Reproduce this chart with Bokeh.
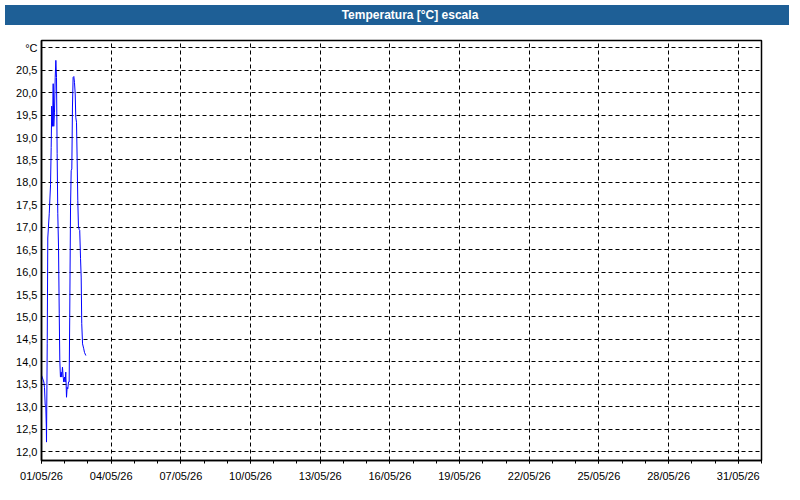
import pandas as pd
from bokeh.plotting import figure
from bokeh.models import FixedTicker, Range1d, Div, ColumnDataSource
from bokeh.layouts import column
from bokeh.embed import file_html
from bokeh.resources import INLINE

title_text = "Temperatura [°C] escala"

times = [
    "2026-05-01 00:00", "2026-05-01 01:00", "2026-05-01 02:25", "2026-05-01 03:05",
    "2026-05-01 03:50", "2026-05-01 04:25", "2026-05-01 05:00", "2026-05-01 05:10",
    "2026-05-01 05:55", "2026-05-01 06:30", "2026-05-01 07:10", "2026-05-01 08:00",
    "2026-05-01 09:20", "2026-05-01 10:00", "2026-05-01 10:35", "2026-05-01 11:25",
    "2026-05-01 12:05", "2026-05-01 12:40", "2026-05-01 13:25", "2026-05-01 14:10",
    "2026-05-01 14:50", "2026-05-01 15:30", "2026-05-01 16:10", "2026-05-01 16:50",
    "2026-05-01 17:35", "2026-05-01 18:20", "2026-05-01 18:55", "2026-05-01 19:35",
    "2026-05-01 20:20", "2026-05-01 21:00", "2026-05-01 21:40", "2026-05-01 22:25",
    "2026-05-01 23:00", "2026-05-01 23:50", "2026-05-02 00:25", "2026-05-02 01:05",
    "2026-05-02 01:50", "2026-05-02 02:30", "2026-05-02 03:10", "2026-05-02 03:55",
    "2026-05-02 04:35", "2026-05-02 05:10", "2026-05-02 06:00", "2026-05-02 06:40",
    "2026-05-02 07:20", "2026-05-02 08:00", "2026-05-02 08:40", "2026-05-02 09:25",
    "2026-05-02 10:05", "2026-05-02 10:50", "2026-05-02 11:25", "2026-05-02 12:10",
    "2026-05-02 12:55", "2026-05-02 13:30", "2026-05-02 14:10", "2026-05-02 14:55",
    "2026-05-02 15:30", "2026-05-02 16:20", "2026-05-02 17:00", "2026-05-02 17:35",
    "2026-05-02 18:25", "2026-05-02 19:40", "2026-05-02 20:25", "2026-05-02 21:50",
]
temps = [
    13.70, 13.64, 13.55, 13.43, 13.03, 13.03, 12.54, 12.21,
    14.40, 16.76, 17.00, 17.30, 17.95, 18.78, 19.70, 19.25,
    20.20, 19.25, 19.55, 20.34, 20.72, 20.34, 18.64, 17.30,
    16.56, 15.07, 14.03, 13.66, 13.77, 13.66, 13.88, 13.66,
    13.55, 13.66, 13.55, 13.77, 13.21, 13.43, 13.40, 13.55,
    13.55, 14.99, 17.45, 18.26, 18.30, 19.68, 20.34, 20.36,
    20.23, 19.97, 19.45, 19.34, 18.41, 17.60, 17.03, 16.95,
    16.93, 16.30, 15.89, 14.85, 14.40, 14.29, 14.21, 14.14,
]

x_start = "2026-05-01"
x_end = "2026-06-01"
x_tick_dates = ["2026-05-01", "2026-05-04", "2026-05-07", "2026-05-10", "2026-05-13",
                "2026-05-16", "2026-05-19", "2026-05-22", "2026-05-25", "2026-05-28",
                "2026-05-31"]
x_tick_labels = ["01/05/26", "04/05/26", "07/05/26", "10/05/26", "13/05/26", "16/05/26",
                 "19/05/26", "22/05/26", "25/05/26", "28/05/26", "31/05/26"]
y_ticks = [12.0, 12.5, 13.0, 13.5, 14.0, 14.5, 15.0, 15.5, 16.0, 16.5, 17.0, 17.5,
           18.0, 18.5, 19.0, 19.5, 20.0, 20.5, 21.0]
y_tick_labels = ["12,0", "12,5", "13,0", "13,5", "14,0", "14,5", "15,0", "15,5", "16,0",
                 "16,5", "17,0", "17,5", "18,0", "18,5", "19,0", "19,5", "20,0", "20,5", "°C"]


def ms(s):
    return float(pd.Timestamp(s).value // 10**6)


FONT = "Liberation Sans"

src = ColumnDataSource(dict(t=pd.to_datetime(times), v=temps))

p = figure(width=784, height=464, x_axis_type="datetime", output_backend="svg",
           toolbar_location=None,
           x_range=Range1d(pd.Timestamp(x_start), pd.Timestamp(x_end)),
           y_range=Range1d(11.80, 21.163),
           min_border_left=41, min_border_right=23, min_border_top=10, min_border_bottom=34)
p.background_fill_color = "white"
p.border_fill_color = "white"
p.outline_line_color = "black"
p.outline_line_width = 1.5

p.line("t", "v", source=src, line_color="#0000ff", line_width=1)

minor = [ms(d) for d in pd.date_range(x_start, x_end, freq="D").strftime("%Y-%m-%d")]
xt = [ms(d) for d in x_tick_dates]
p.xaxis.ticker = FixedTicker(ticks=xt, minor_ticks=minor)
p.xaxis.major_label_overrides = {k: lab for k, lab in zip(xt, x_tick_labels)}
p.yaxis.ticker = FixedTicker(ticks=y_ticks)
p.yaxis.major_label_overrides = {k: lab for k, lab in zip(y_ticks, y_tick_labels)}

for ax in (p.xaxis, p.yaxis):
    ax.axis_line_color = "black"
    ax.axis_line_width = 1.5
    ax.major_label_text_font = FONT
    ax.major_label_text_font_size = "11px"
    ax.major_label_text_color = "black"
    ax.major_tick_line_color = "black"
    ax.minor_tick_line_color = "black"

p.xaxis.major_tick_in = 0
p.xaxis.major_tick_out = 3
p.xaxis.minor_tick_in = 0
p.xaxis.minor_tick_out = 3
p.xaxis.major_label_standoff = 6
p.yaxis.major_tick_in = 0
p.yaxis.major_tick_out = 0
p.yaxis.minor_tick_line_color = None
p.yaxis.major_label_standoff = 4

for g in (p.xgrid, p.ygrid):
    g.grid_line_color = "black"
    g.grid_line_dash = "4 3"
    g.grid_line_width = 1

bar = Div(text=title_text, width=784, height=20,
          styles={"background-color": "#1e5f96", "color": "white", "font-weight": "bold",
                  "font-family": FONT, "font-size": "12px", "text-align": "center",
                  "text-indent": "26px",
                  "line-height": "20px", "width": "784px", "height": "20px"})

layout = column(bar, p, spacing=0)
open("out.html", "w").write(file_html(layout, INLINE))
